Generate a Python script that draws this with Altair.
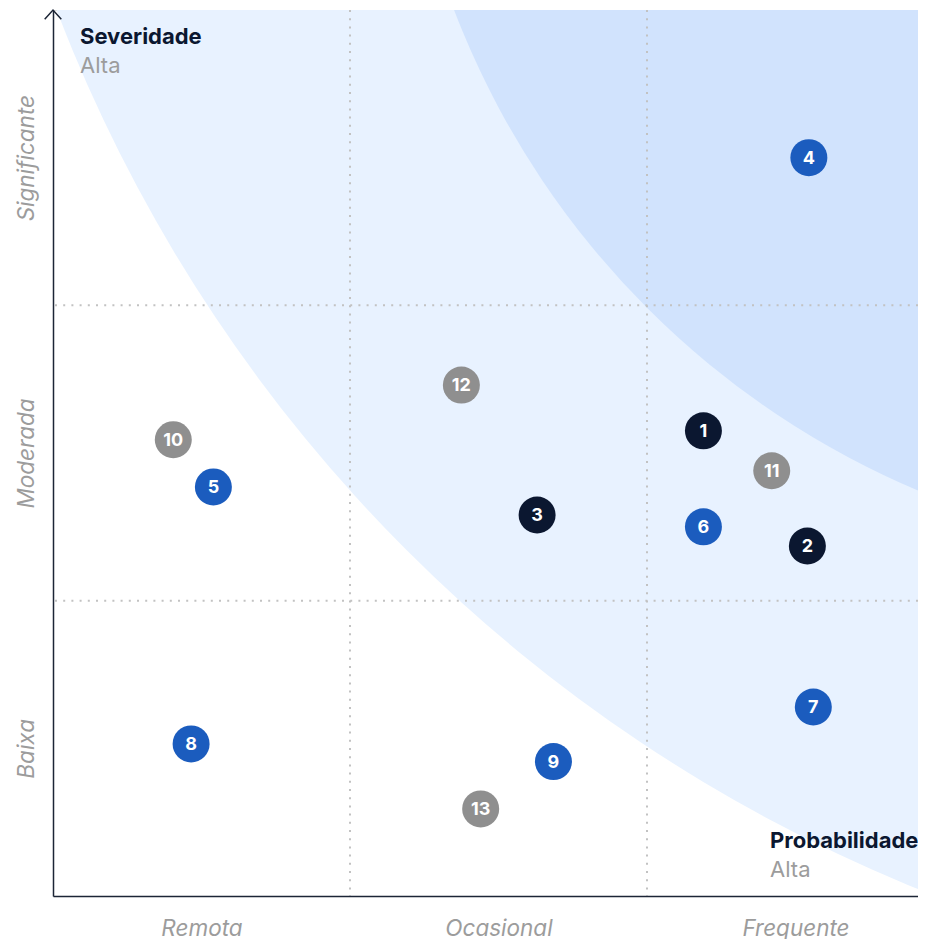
import altair as alt
import pandas as pd

# ---------------- data ----------------
risk_id = [1, 2, 3, 4, 5, 6, 7, 8, 9, 10, 11, 12, 13]
probabilidade = [2.19, 2.54, 1.63, 2.545, 0.54, 2.19, 2.56, 0.465, 1.685, 0.405, 2.42, 1.375, 1.44]
severidade = [1.575, 1.185, 1.29, 2.50, 1.385, 1.25, 0.64, 0.515, 0.455, 1.545, 1.44, 1.73, 0.295]
grupo = ["escuro", "escuro", "escuro", "azul", "azul", "azul", "azul", "azul", "azul",
         "cinza", "cinza", "cinza", "cinza"]

x_categorias = ["Remota", "Ocasional", "Frequente"]
y_categorias = ["Baixa", "Moderada", "Significante"]
tick_pos = [0.5, 1.5, 2.5]
grid_breaks = [1, 2]

zona_nome = ["externa", "interna"]
zona_centro = [4.86, 4.03]

# ---------------- styles ----------------
NAVY = "#0b1730"
BLUE = "#1b5cbe"
GRAY = "#8f8f8f"
AXIS_COLOR = "#1c2536"
LABEL_GRAY = "#9c9c9c"
ZONE_COLORS = {"externa": "#e8f2ff", "interna": "#d1e3fd"}
ZONE_RADIUS_PX = {"externa": 1541, "interna": 852}
FONT = "Inter"

df = pd.DataFrame({"id": risk_id, "prob": probabilidade, "sev": severidade, "grupo": grupo})
zonas = pd.DataFrame({"zona": zona_nome, "c": zona_centro})
grid_df = pd.DataFrame({"v": grid_breaks})
one = pd.DataFrame({"a": [0]})

# visible part of the probability axis (the plot is cut at the page edge)
xs = alt.Scale(domain=[0, 2.9125], nice=False, zero=False)
ys = alt.Scale(domain=[0, 3], nice=False, zero=False)


def label_expr(names):
    return (f"datum.value < 1 ? '{names[0]}' : "
            f"datum.value < 2 ? '{names[1]}' : '{names[2]}'")


xaxis = alt.Axis(values=tick_pos, labelExpr=label_expr(x_categorias), title=None,
                 grid=False, ticks=False, tickSize=0, domain=True,
                 domainColor=AXIS_COLOR, domainWidth=1.5, labelFont=FONT,
                 labelFontStyle="italic", labelFontSize=22.5, labelColor=LABEL_GRAY,
                 labelPadding=39, labelBaseline="alphabetic", labelAlign="center",
                 labelFlush=False, labelOverlap=False, zindex=1)
yaxis = alt.Axis(values=tick_pos, labelExpr=label_expr(y_categorias), title=None,
                 grid=False, ticks=False, tickSize=0, domain=True,
                 domainColor=AXIS_COLOR, domainWidth=1.5, labelFont=FONT,
                 labelFontStyle="italic", labelFontSize=22.5, labelColor=LABEL_GRAY,
                 labelAngle=270, labelAlign="center", labelBaseline="alphabetic",
                 labelPadding=20, labelFlush=False, labelOverlap=False, zindex=1)


def X(field):
    return alt.X(field, scale=xs, axis=xaxis)


def Y(field):
    return alt.Y(field, scale=ys, axis=yaxis)


layers = []
for z in zona_nome:
    r = ZONE_RADIUS_PX[z]
    layers.append(
        alt.Chart(zonas[zonas.zona == z])
        .mark_circle(clip=True, opacity=1, color=ZONE_COLORS[z], size=(2 * r) ** 2)
        .encode(x=X("c:Q"), y=Y("c:Q"))
    )

grid_style = dict(color="#c2c2c2", strokeDash=[2, 6.2], strokeWidth=2)
layers.append(alt.Chart(grid_df).mark_rule(**grid_style).encode(x=X("v:Q")))
layers.append(alt.Chart(grid_df).mark_rule(**grid_style).encode(y=Y("v:Q")))

points = alt.Chart(df).mark_circle(size=1369, opacity=1).encode(
    x=X("prob:Q"), y=Y("sev:Q"),
    color=alt.Color("grupo:N", legend=None,
                    scale=alt.Scale(domain=["escuro", "azul", "cinza"],
                                    range=[NAVY, BLUE, GRAY])))
labels = alt.Chart(df).mark_text(color="white", font=FONT, fontSize=18,
                                 fontWeight="bold", baseline="middle", dy=1).encode(
    x=X("prob:Q"), y=Y("sev:Q"), text=alt.Text("id:N"))
layers += [points, labels]


def annot(text, x, y, bold):
    return alt.Chart(one).mark_text(
        align="left", baseline="alphabetic", font=FONT, fontSize=22,
        fontWeight="bold" if bold else "normal",
        color=NAVY if bold else LABEL_GRAY).encode(
        x=alt.value(x), y=alt.value(y), text=alt.value(text))


layers += [
    annot("Severidade", 27, 34, True),
    annot("Alta", 27, 63, False),
    annot("Probabilidade", 717, 838, True),
    annot("Alta", 717, 867, False),
]

arrow = alt.Chart(one).mark_point(shape="M-1,1.1L0,0L1,1.1", filled=False, size=276,
                                  strokeWidth=1.5, color=AXIS_COLOR, opacity=1).encode(
    x=alt.value(0), y=alt.value(0))
layers.append(arrow)

chart = alt.layer(*layers).properties(
    width=865, height=886,
    autosize=alt.AutoSizeParams(type="none"),
    padding={"left": 45, "top": 2, "right": 0, "bottom": 43},
    background="white",
).configure_view(stroke=None).configure(font=FONT)

chart.save("out.html", embed_options={"renderer": "svg", "actions": False})
